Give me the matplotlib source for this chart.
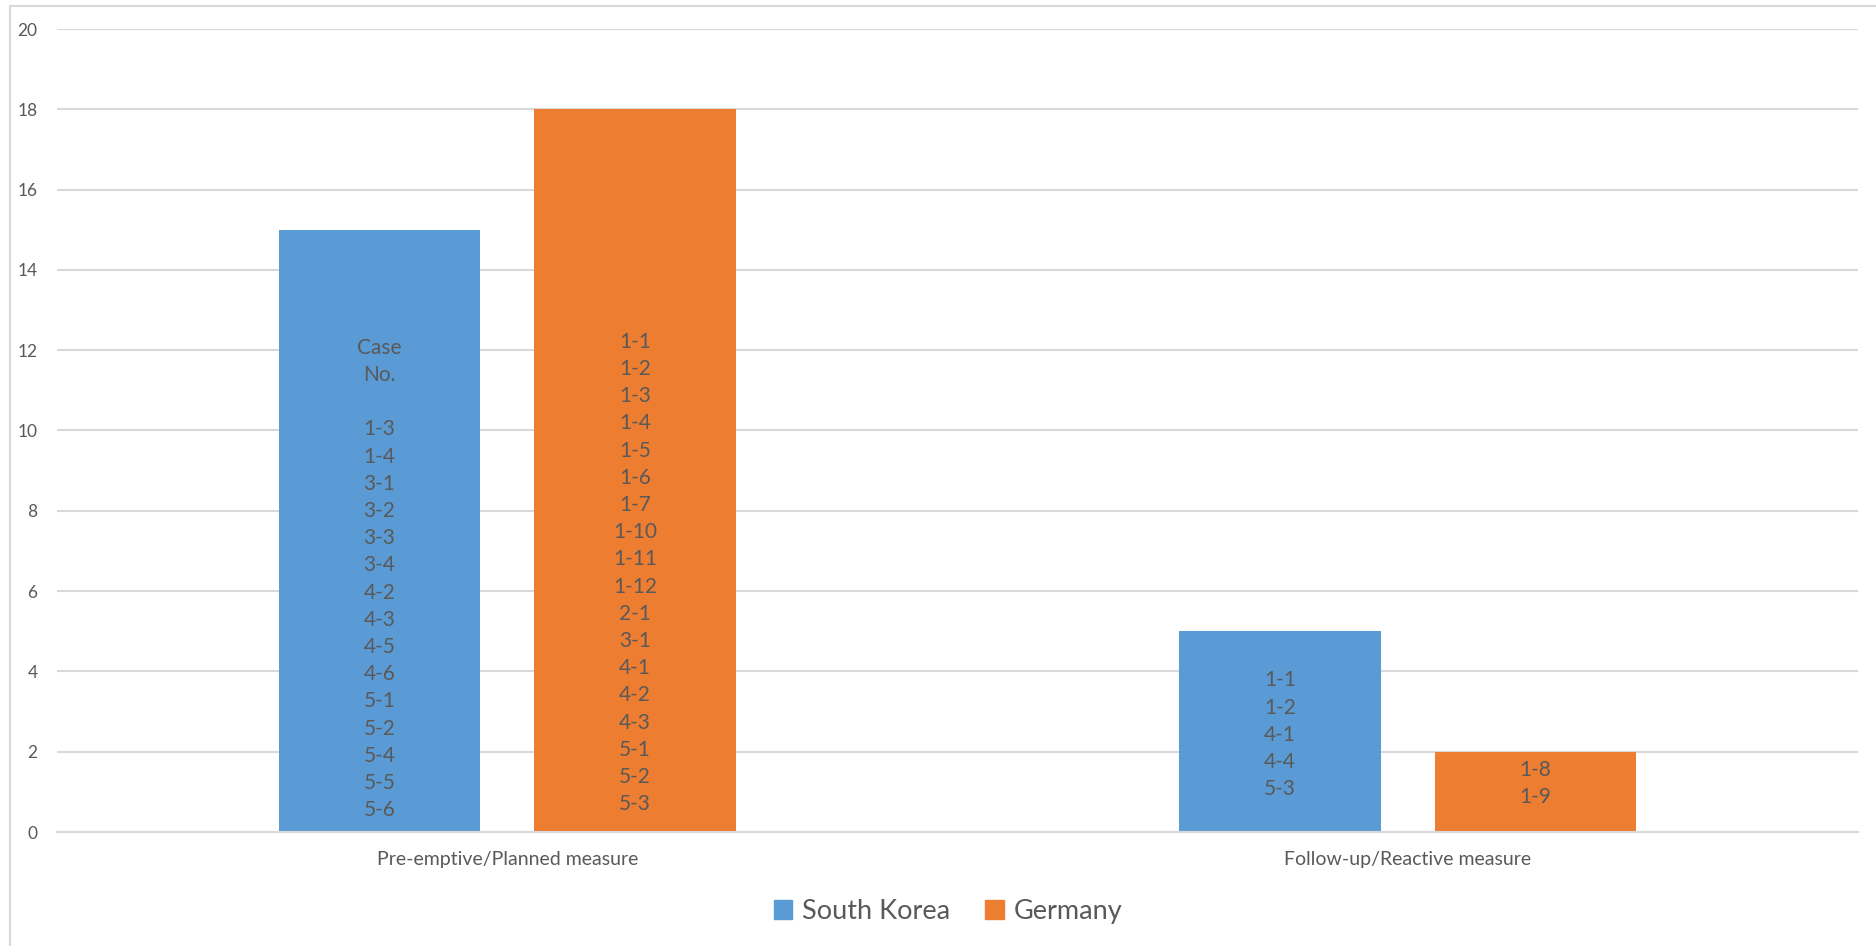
import matplotlib
matplotlib.use("Agg")
import matplotlib.pyplot as plt
from matplotlib.patches import Rectangle, Patch

# counts of measures per country and category
categories = ["Pre-emptive/Planned measure", "Follow-up/Reactive measure"]
series = ["South Korea", "Germany"]
south_korea = [15, 5]
germany = [18, 2]

# case numbers written inside each bar
korea_cases = [
    ["Case", "No.", "", "1-3", "1-4", "3-1", "3-2", "3-3", "3-4", "4-2", "4-3",
     "4-5", "4-6", "5-1", "5-2", "5-4", "5-5", "5-6"],
    ["1-1", "1-2", "4-1", "4-4", "5-3"],
]
germany_cases = [
    ["1-1", "1-2", "1-3", "1-4", "1-5", "1-6", "1-7", "1-10", "1-11", "1-12",
     "2-1", "3-1", "4-1", "4-2", "4-3", "5-1", "5-2", "5-3"],
    ["1-8", "1-9"],
]
yticks = list(range(0, 21, 2))

BLUE = "#5b9bd5"
ORANGE = "#ed7d31"
GRID = "#d9d9d9"
TEXT = "#595959"

plt.rcParams["font.family"] = ["Lato", "DejaVu Sans"]

W, H = 1876, 946
fig = plt.figure(figsize=(W / 100, H / 100), dpi=100)

# chart area border, clipped by the image edges on the right and bottom
fig.patches.append(Rectangle((10 / W, -0.1), 1.1, 1.1 - 6 / H, transform=fig.transFigure,
                             fill=False, edgecolor=GRID, linewidth=1.5))

ax = fig.add_axes([57 / W, (H - 832) / H, (1858 - 57) / W, (832 - 29) / H])

x = range(len(categories))
width = 0.224
offset = 0.142
kx = [i - offset for i in x]
gx = [i + offset for i in x]
ax.bar(kx, south_korea, width, color=BLUE, label=series[0], zorder=2)
ax.bar(gx, germany, width, color=ORANGE, label=series[1], zorder=2)

# vertical centre of each text block, in data units
korea_text_y = [6.3, 2.42]
germany_text_y = [6.45, 1.2]
for i in x:
    ax.text(kx[i], korea_text_y[i], "\n".join(korea_cases[i]), ha="center", va="center",
            fontsize=15, color=TEXT, linespacing=1.45, zorder=3)
    ax.text(gx[i], germany_text_y[i], "\n".join(germany_cases[i]), ha="center", va="center",
            fontsize=15, color=TEXT, linespacing=1.45, zorder=3)

ax.set_xlim(-0.5, 1.5)
ax.set_ylim(0, 20)
ax.set_yticks(yticks)
ax.set_xticks(list(x))
ax.set_xticklabels(categories)
ax.yaxis.grid(True, color=GRID, linewidth=1.5, zorder=0)
ax.set_axisbelow(True)
for side in ["top", "right", "left"]:
    ax.spines[side].set_visible(False)
ax.spines["bottom"].set_color(GRID)
ax.spines["bottom"].set_linewidth(1.5)
ax.tick_params(axis="y", length=0, pad=14, labelsize=12.5, labelcolor=TEXT)
ax.tick_params(axis="x", length=0, pad=14, labelsize=14, labelcolor=TEXT)

handles = [Patch(color=BLUE), Patch(color=ORANGE)]
fig.legend(handles, series, loc="center", bbox_to_anchor=(948 / W, (H - 911) / H), ncol=2,
           frameon=False, fontsize=19.5, labelcolor=TEXT, handlelength=0.7, handleheight=0.7,
           handletextpad=0.35, columnspacing=1.3)

fig.savefig("out.png", dpi=100, facecolor="white")
